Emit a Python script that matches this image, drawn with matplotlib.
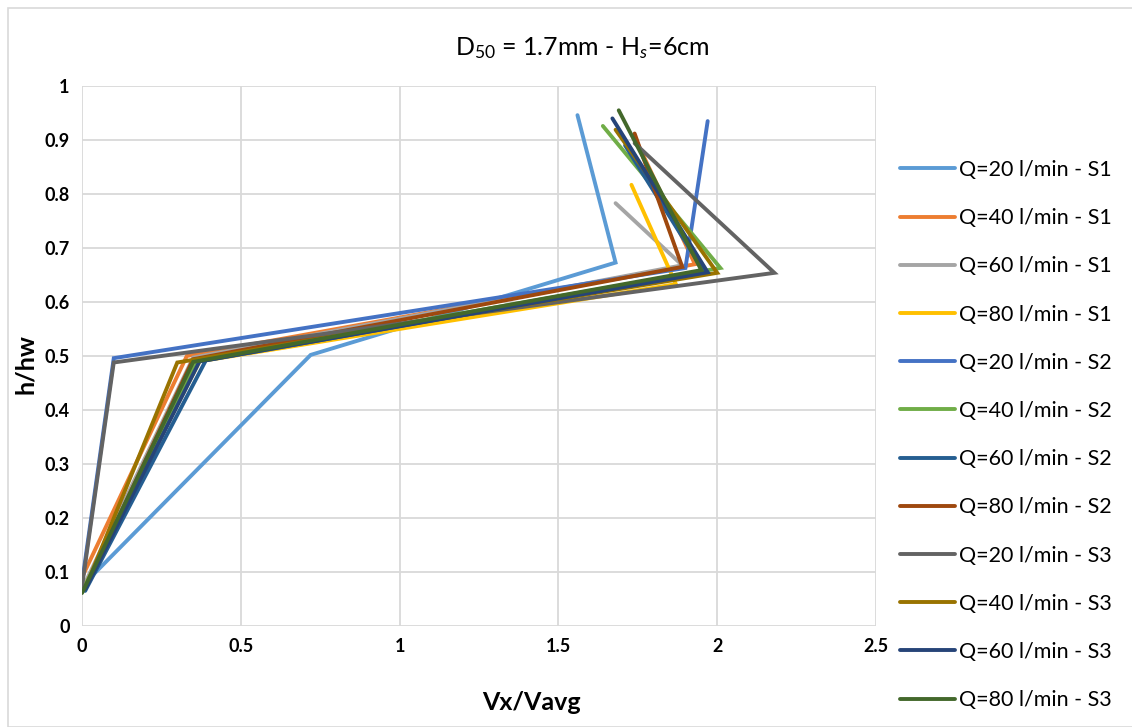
import matplotlib
matplotlib.use("Agg")
import matplotlib.pyplot as plt
from matplotlib.patches import Rectangle

plt.rcParams['font.family'] = ['Lato', 'DejaVu Sans']
plt.rcParams['mathtext.fontset'] = 'custom'
plt.rcParams['mathtext.rm'] = 'Lato'
plt.rcParams['mathtext.it'] = 'Lato:italic'
plt.rcParams['mathtext.bf'] = 'Lato:bold'

labels = ["Q=20 l/min - S1", "Q=40 l/min - S1", "Q=60 l/min - S1", "Q=80 l/min - S1",
          "Q=20 l/min - S2", "Q=40 l/min - S2", "Q=60 l/min - S2", "Q=80 l/min - S2",
          "Q=20 l/min - S3", "Q=40 l/min - S3", "Q=60 l/min - S3", "Q=80 l/min - S3"]
colors = ["#5B9BD5", "#ED7D31", "#A5A5A5", "#FFC000",
          "#4472C4", "#70AD47", "#255E91", "#9E480E",
          "#636363", "#997300", "#264478", "#43682B"]

# x values (Vx/Vavg) per series, bottom -> top
vx = [
    [0.01, 0.72, 1.68, 1.56],
    [0.00, 0.33, 1.93, 1.74],
    [0.01, 0.35, 1.89, 1.68],
    [0.01, 0.37, 1.87, 1.73],
    [0.00, 0.10, 1.90, 1.97],
    [0.01, 0.36, 2.01, 1.64],
    [0.01, 0.39, 1.96, 1.71],
    [0.01, 0.35, 1.89, 1.74],
    [0.00, 0.10, 2.18, 1.74],
    [0.01, 0.30, 2.00, 1.68],
    [0.01, 0.37, 1.97, 1.67],
    [0.00, 0.35, 1.95, 1.69],
]
# y values (h/hw) per series
hh = [
    [0.080, 0.502, 0.673, 0.946],
    [0.090, 0.500, 0.670, 0.905],
    [0.080, 0.497, 0.668, 0.783],
    [0.075, 0.490, 0.633, 0.817],
    [0.080, 0.496, 0.663, 0.935],
    [0.075, 0.493, 0.663, 0.926],
    [0.065, 0.492, 0.655, 0.890],
    [0.070, 0.494, 0.665, 0.912],
    [0.073, 0.488, 0.654, 0.894],
    [0.070, 0.488, 0.654, 0.919],
    [0.068, 0.490, 0.655, 0.940],
    [0.061, 0.489, 0.659, 0.955],
]

W, H = 1132, 727
fig = plt.figure(figsize=(W / 100, H / 100), dpi=100)
ax = fig.add_axes([82 / W, 1 - 626 / H, (876 - 82) / W, (626 - 86) / H])

for x, y, c, lab in zip(vx, hh, colors, labels):
    ax.plot(x, y, color=c, lw=2.8, label=lab, solid_joinstyle='miter', solid_capstyle='round')

ax.set_xlim(0, 2.5)
ax.set_ylim(0, 1)
ax.set_xticks([0, 0.5, 1, 1.5, 2, 2.5])
ax.set_xticklabels(["0", "0.5", "1", "1.5", "2", "2.5"])
ax.set_yticks([0, 0.1, 0.2, 0.3, 0.4, 0.5, 0.6, 0.7, 0.8, 0.9, 1])
ax.set_yticklabels(["0", "0.1", "0.2", "0.3", "0.4", "0.5", "0.6", "0.7", "0.8", "0.9", "1"])
ax.grid(True, color="#D9D9D9", lw=1.3)
ax.set_axisbelow(True)
for s in ax.spines.values():
    s.set_visible(False)
ax.tick_params(length=0, labelsize=13, pad=9)
for t in ax.get_xticklabels() + ax.get_yticklabels():
    t.set_fontweight('bold')

ax.set_xlabel("Vx/Vavg", fontsize=18, fontweight='bold')
ax.xaxis.set_label_coords((531 - 82) / 794, -(702 - 626) / 540)
ax.xaxis.label.set_va('center')
ax.set_ylabel("h/hw", fontsize=18, fontweight='bold')
ax.yaxis.set_label_coords((25 - 82) / 794, (626 - 364) / 540)
ax.yaxis.label.set_va('center')

fig.text(582 / W, 1 - 48 / H, r"D$_{50}$ = 1.7mm - H$_{s}$=6cm",
         ha='center', va='center', fontsize=18)

leg = ax.legend(loc='upper left', bbox_to_anchor=(900 / W, 1 - 160 / H),
                bbox_transform=fig.transFigure, frameon=False, fontsize=15.5,
                handlelength=2.55, handletextpad=0.2, labelspacing=1.31,
                borderaxespad=0, borderpad=0)

fig.patches.append(Rectangle((8 / W, 0), 1, 1 - 8 / H, transform=fig.transFigure,
                             fill=False, edgecolor="#D9D9D9", lw=1.2))

fig.savefig("out.png", dpi=100, facecolor="white")
